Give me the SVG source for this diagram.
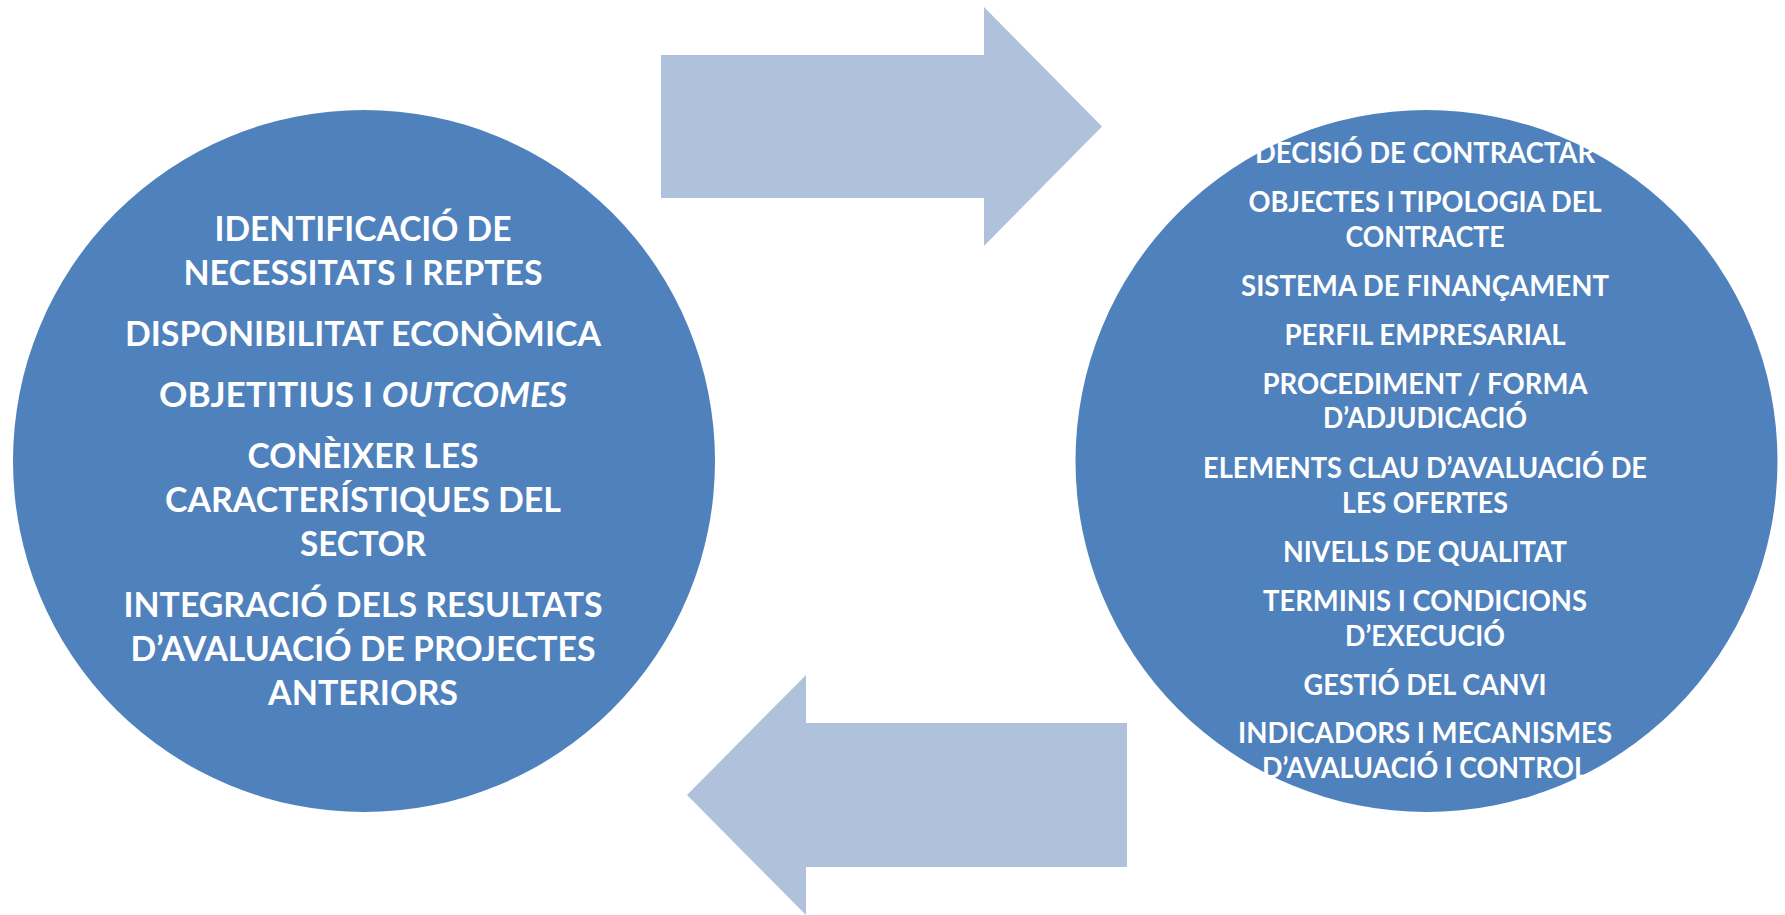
<svg xmlns="http://www.w3.org/2000/svg" width="1785" height="915" viewBox="0 0 1785 915">
<style>
.circle{fill:#4F81BD}
.arrow{fill:#B0C1DB}
.t{font-family:Lato,"Open Sans","Liberation Sans",sans-serif;font-weight:bold;fill:#FFFFFF;text-anchor:middle}
.l{font-size:33.5px}
.r{font-size:28px}
</style>
<rect width="1785" height="915" fill="#FFFFFF"/>
<g id="connectors">
<polygon id="arrow-top" class="arrow" points="661,55 984,55 984,7 1102,126.5 984,246 984,198 661,198"/>
<polygon id="arrow-bottom" class="arrow" points="1127,723 806,723 806,675 687,795 806,915 806,867 1127,867"/>
</g>
<g id="node-left">
<circle class="circle" cx="364" cy="461" r="351"/>
<g transform="translate(0,1.5)">
<text class="t l" x="363" y="239" textLength="297" lengthAdjust="spacingAndGlyphs">IDENTIFICACIÓ DE</text>
<text class="t l" x="363" y="283" textLength="359" lengthAdjust="spacingAndGlyphs">NECESSITATS I REPTES</text>
<text class="t l" x="363" y="344" textLength="476" lengthAdjust="spacingAndGlyphs">DISPONIBILITAT ECONÒMICA</text>
<text class="t l" x="363" y="405" textLength="408" lengthAdjust="spacingAndGlyphs">OBJETITIUS I <tspan font-style="italic">OUTCOMES</tspan></text>
<text class="t l" x="363" y="466" textLength="231" lengthAdjust="spacingAndGlyphs">CONÈIXER LES</text>
<text class="t l" x="363" y="510" textLength="396" lengthAdjust="spacingAndGlyphs">CARACTERÍSTIQUES DEL</text>
<text class="t l" x="363" y="554" textLength="126" lengthAdjust="spacingAndGlyphs">SECTOR</text>
<text class="t l" x="363" y="615" textLength="479" lengthAdjust="spacingAndGlyphs">INTEGRACIÓ DELS RESULTATS</text>
<text class="t l" x="363" y="659" textLength="465" lengthAdjust="spacingAndGlyphs">D’AVALUACIÓ DE PROJECTES</text>
<text class="t l" x="363" y="703" textLength="190" lengthAdjust="spacingAndGlyphs">ANTERIORS</text>
</g>
</g>
<g id="node-right">
<circle class="circle" cx="1426.5" cy="461" r="351"/>
<g transform="translate(0,1)">
<text class="t r" x="1425" y="161.5" textLength="340" lengthAdjust="spacingAndGlyphs">DECISIÓ DE CONTRACTAR</text>
<text class="t r" x="1425" y="210.5" textLength="353" lengthAdjust="spacingAndGlyphs">OBJECTES I TIPOLOGIA DEL</text>
<text class="t r" x="1425" y="245.5" textLength="159" lengthAdjust="spacingAndGlyphs">CONTRACTE</text>
<text class="t r" x="1425" y="295" textLength="368" lengthAdjust="spacingAndGlyphs">SISTEMA DE FINANÇAMENT</text>
<text class="t r" x="1425" y="343.5" textLength="281" lengthAdjust="spacingAndGlyphs">PERFIL EMPRESARIAL</text>
<text class="t r" x="1425" y="393" textLength="325" lengthAdjust="spacingAndGlyphs">PROCEDIMENT / FORMA</text>
<text class="t r" x="1425" y="427" textLength="204" lengthAdjust="spacingAndGlyphs">D’ADJUDICACIÓ</text>
<text class="t r" x="1425" y="476.5" textLength="444" lengthAdjust="spacingAndGlyphs">ELEMENTS CLAU D’AVALUACIÓ DE</text>
<text class="t r" x="1425" y="511.5" textLength="166" lengthAdjust="spacingAndGlyphs">LES OFERTES</text>
<text class="t r" x="1425" y="561" textLength="284" lengthAdjust="spacingAndGlyphs">NIVELLS DE QUALITAT</text>
<text class="t r" x="1425" y="610" textLength="324" lengthAdjust="spacingAndGlyphs">TERMINIS I CONDICIONS</text>
<text class="t r" x="1425" y="644.5" textLength="160" lengthAdjust="spacingAndGlyphs">D’EXECUCIÓ</text>
<text class="t r" x="1425" y="693.5" textLength="243" lengthAdjust="spacingAndGlyphs">GESTIÓ DEL CANVI</text>
<text class="t r" x="1425" y="741.5" textLength="374" lengthAdjust="spacingAndGlyphs">INDICADORS I MECANISMES</text>
<text class="t r" x="1425" y="776.5" textLength="326" lengthAdjust="spacingAndGlyphs">D’AVALUACIÓ I CONTROL</text>
</g>
</g>
</svg>
